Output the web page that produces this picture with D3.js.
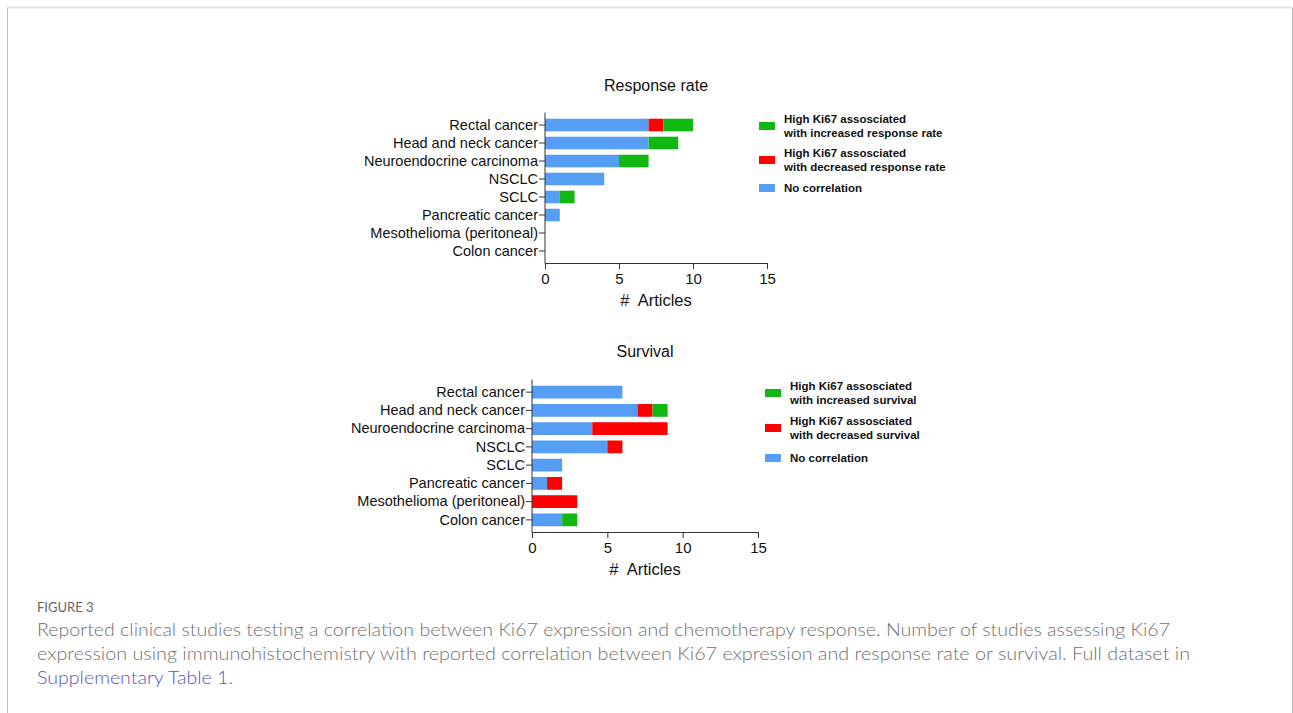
<!DOCTYPE html>
<html><head><meta charset="utf-8">
<script src="https://cdn.jsdelivr.net/npm/d3@7"></script>
<style>
html,body{margin:0;padding:0;background:#fff;}
svg{display:block;}
</style></head>
<body>
<svg id="chart" width="1293" height="713"></svg>
<script>
const categories = ["Rectal cancer","Head and neck cancer","Neuroendocrine carcinoma","NSCLC","SCLC","Pancreatic cancer","Mesothelioma (peritoneal)","Colon cancer"];
const xTicks = [0,5,10,15];
const seriesKeys = ["none","decreased","increased"];
const seriesColors = {none:"#559df5", decreased:"#ff0000", increased:"#11b811"};

// Response rate
const rrNoCorrelation = [7,7,5,4,1,1,0,0];
const rrDecreased     = [1,0,0,0,0,0,0,0];
const rrIncreased     = [2,2,2,0,1,0,0,0];
const rrLegend = [
  ["increased",["High Ki67 assosciated","with increased response rate"]],
  ["decreased",["High Ki67 assosciated","with decreased response rate"]],
  ["none",["No correlation"]]
];

// Survival
const svNoCorrelation = [6,7,4,5,2,1,0,2];
const svDecreased     = [0,1,5,1,0,1,3,0];
const svIncreased     = [0,1,0,0,0,0,0,1];
const svLegend = [
  ["increased",["High Ki67 assosciated","with increased survival"]],
  ["decreased",["High Ki67 assosciated","with decreased survival"]],
  ["none",["No correlation"]]
];

const captionLabel = "FIGURE 3";
const captionLines = [
  "Reported clinical studies testing a correlation between Ki67 expression and chemotherapy response. Number of studies assessing Ki67",
  "expression using immunohistochemistry with reported correlation between Ki67 expression and response rate or survival. Full dataset in"
];
const captionLink = "Supplementary Table 1";

const svg = d3.select("#chart");

// frame
svg.append("line").attr("x1",7).attr("x2",1292).attr("y1",7.5).attr("y2",7.5).attr("stroke","#e2e2e2").attr("stroke-width",2);
svg.append("line").attr("x1",7.5).attr("x2",7.5).attr("y1",8).attr("y2",713).attr("stroke","#bdbdbd");
svg.append("line").attr("x1",1292.5).attr("x2",1292.5).attr("y1",8).attr("y2",713).attr("stroke","#bdbdbd");

function panel(o){
  const g = svg.append("g");
  const x = d3.scaleLinear().domain([0,15]).range([o.x0, o.x1]);
  const y = d3.scaleBand().domain(categories).range([o.yTop+3, o.yBottom-3]).paddingInner(0.3).paddingOuter(0.15);
  const rows = categories.map((c,i)=>({cat:c, none:o.none[i], decreased:o.dec[i], increased:o.inc[i]}));
  const stacked = d3.stack().keys(seriesKeys)(rows);
  g.selectAll("g.s").data(stacked).join("g").attr("fill",d=>seriesColors[d.key])
    .selectAll("rect").data(d=>d).join("rect")
    .attr("x",d=>x(d[0])).attr("width",d=>x(d[1])-x(d[0]))
    .attr("y",d=>y(d.data.cat)).attr("height",y.bandwidth());
  // axes
  const ya = g.append("g").attr("transform",`translate(${o.x0},0)`)
    .call(d3.axisLeft(y).tickSize(6).tickPadding(1).tickSizeOuter(0));
  ya.select(".domain").attr("stroke","#333").attr("d",`M0,${o.yTop-0.5}V${o.yBottom+0.5}`);
  ya.selectAll(".tick line").attr("stroke","#333");
  ya.selectAll("text").attr("font-family","Liberation Sans, Arial, sans-serif").attr("font-size",14.5).attr("fill","#111");
  const xa = g.append("g").attr("transform",`translate(0,${o.yBottom})`)
    .call(d3.axisBottom(x).tickValues(xTicks).tickSize(6).tickSizeOuter(0).tickPadding(4));
  xa.select(".domain").attr("stroke","#333");
  xa.selectAll(".tick line").attr("stroke","#333");
  xa.selectAll("text").attr("font-family","Liberation Sans, Arial, sans-serif").attr("font-size",15).attr("fill","#111");
  g.append("text").attr("x",(o.x0+o.x1)/2).attr("y",o.yBottom+43).attr("text-anchor","middle")
    .attr("font-family","Liberation Sans, Arial, sans-serif").attr("font-size",16.5).attr("fill","#111")
    .attr("xml:space","preserve").text("#  Articles");
  g.append("text").attr("x",(o.x0+o.x1)/2).attr("y",o.titleY).attr("text-anchor","middle")
    .attr("font-family","Liberation Sans, Arial, sans-serif").attr("font-size",16).attr("fill","#111").text(o.title);
  // legend
  const lg = g.append("g").attr("transform",`translate(${o.lx},0)`);
  o.legend.forEach((item,i)=>{
    const yy = o.ly[i];
    lg.append("rect").attr("x",0).attr("y",yy-4).attr("width",16).attr("height",8).attr("fill",seriesColors[item[0]]);
    const lines = item[1];
    lines.forEach((t,j)=>{
      const off = lines.length===1 ? 0 : (j===0 ? -7 : 7);
      lg.append("text").attr("x",25).attr("y",yy+off).attr("dy","0.35em")
        .attr("font-family","Liberation Sans, Arial, sans-serif").attr("font-weight","bold").attr("font-size",11.5).attr("fill","#111").text(t);
    });
  });
}

panel({x0:545, x1:767, yTop:113, yBottom:263, title:"Response rate", titleY:91,
  none:rrNoCorrelation, dec:rrDecreased, inc:rrIncreased, legend:rrLegend, lx:759, ly:[126,160,188]});
panel({x0:532, x1:758, yTop:380, yBottom:532, title:"Survival", titleY:357,
  none:svNoCorrelation, dec:svDecreased, inc:svIncreased, legend:svLegend, lx:765, ly:[393,428,458]});

// caption
const cf = "Lato, 'Open Sans', sans-serif";
svg.append("text").attr("x",37).attr("y",612).attr("font-family",cf).attr("font-size",13).attr("fill","#666").text(captionLabel);
const caps = [[captionLines[0],636,1170],[captionLines[1],660,1190]];
caps.forEach(([t,yy,xe])=>{
  svg.append("text").attr("x",37).attr("y",yy).attr("font-family",cf).attr("font-weight",300).attr("font-size",18).attr("fill","#707070")
    .attr("textLength",xe-37).attr("lengthAdjust","spacingAndGlyphs").text(t);
});
const l3 = svg.append("text").attr("x",37).attr("y",684).attr("font-family",cf).attr("font-weight",300).attr("font-size",18)
  .attr("textLength",233-37).attr("lengthAdjust","spacingAndGlyphs");
l3.append("tspan").attr("fill","#5b54b8").text(captionLink);
l3.append("tspan").attr("fill","#707070").text(".");
</script>
</body></html>
